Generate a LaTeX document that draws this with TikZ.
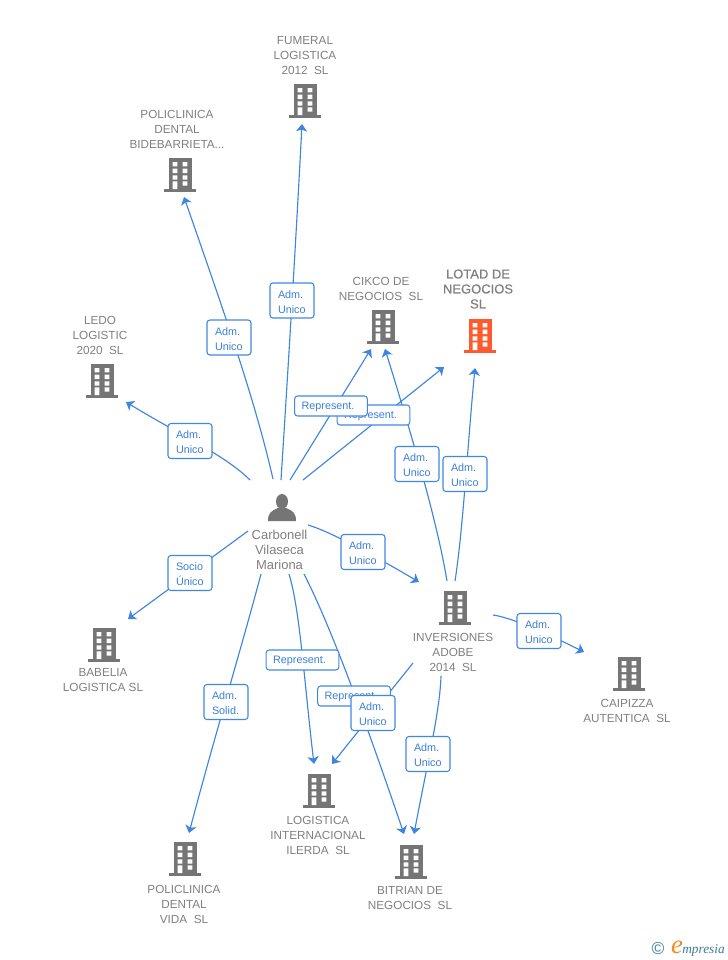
\documentclass[tikz,border=0pt]{standalone}
\usepackage{fontspec}
\setmainfont{Liberation Sans}
\newfontfamily\heavyish[FakeBold=0.5]{Liberation Sans}
\newfontfamily\logofont{Liberation Serif}
\usetikzlibrary{arrows.meta}
\definecolor{edgeblue}{HTML}{3D85E0}
\definecolor{boxblue}{HTML}{3F88E2}
\definecolor{lblblue}{HTML}{3A7FDC}
\definecolor{txtgray}{HTML}{808080}
\definecolor{icongray}{HTML}{757575}
\definecolor{hotorange}{HTML}{FF5A2D}
\definecolor{logoteal}{HTML}{3C7E96}
\definecolor{logoorange}{HTML}{F28C1E}
\tikzset{
 linkline/.style={draw=edgeblue,line width=0.85pt,-{Stealth[length=5.6pt,width=8.4pt,inset=1.5pt]}},
 lblbox/.style={draw=boxblue,line width=0.8pt,rounded corners=2.2pt,fill=white,inner sep=0pt,minimum width=33pt,minimum height=26.25pt,text width=21pt,text depth=9pt,align=left,text=lblblue,font=\fontsize{8.1}{11.25}\selectfont},
 repbox/.style={draw=boxblue,line width=0.8pt,rounded corners=2.2pt,fill=white,inner sep=0pt,minimum width=54.5pt,minimum height=15pt,text width=44pt,text depth=0pt,align=left,text=lblblue,font=\fontsize{8.1}{11.25}\selectfont},
 ntext/.style={align=center,text=txtgray,inner sep=0pt,font=\fontsize{8.8}{11.25}\selectfont},
 bldnode/.style={inner sep=0pt,minimum width=24pt,minimum height=25pt},
 bldg/.pic={
  \fill[pic actions] (-11.5,-17) rectangle (11.5,15);
  \fill[pic actions] (-16,14) rectangle (16,17);
  \fill[white] (-7.3,-13) rectangle (-2.7,-8.7) (2.7,-13) rectangle (7.3,-8.7)
   (-7.3,-6.3) rectangle (-2.7,-2) (2.7,-6.3) rectangle (7.3,-2)
   (-7.3,0.3) rectangle (-2.7,4.7) (2.7,0.3) rectangle (7.3,4.7)
   (-7.3,6.3) rectangle (-2.7,14) (2.7,6.3) rectangle (7.3,10.7);
 }
}
\newcommand{\bld}[4]{\node[bldnode] (#1) at (#2,#3) {};\pic[fill=#4] at (#2,#3) {bldg};}
\begin{document}
\begin{tikzpicture}[x=0.75pt,y=-0.75pt]
\useasboundingbox[fill=white] (0,0) rectangle (728,960);
% building icons
\bld{bF}{305}{101}{icongray}
\bld{bB}{180}{175}{icongray}
\bld{bL}{102}{381}{icongray}
\bld{bC}{383}{327}{icongray}
\bld{bT}{480}{336}{hotorange}
\bld{bI}{455}{608}{icongray}
\bld{bA}{629}{674}{icongray}
\bld{bE}{104}{645}{icongray}
\bld{bG}{319}{791}{icongray}
\bld{bV}{185}{859}{icongray}
\bld{bR}{411}{862}{icongray}
% person icon
\node[inner sep=0pt,minimum width=21pt,minimum height=21pt] (pP) at (282,508) {};
\fill[icongray] (282,501.5) ellipse (6 and 7.5);
\fill[icongray] (268,521) .. controls (268,513) and (271,511) .. (278,508) -- (286,508) .. controls (293,511) and (296,513) .. (296,521) -- cycle;
% names
\node[ntext] (nF) at (305,55.5) {FUMERAL\\LOGISTICA\\2012\ \ SL};
\node[ntext] (nB) at (177,129) {POLICLINICA\\DENTAL\\BIDEBARRIETA...};
\node[ntext] (nL) at (100,335) {LEDO\\LOGISTIC\\2020\ \ SL};
\node[ntext] (nC) at (381,288.5) {CIKCO DE\\NEGOCIOS\ \ SL};
\node[ntext,font=\heavyish\fontsize{9.75}{11.25}\selectfont] (nT) at (478,289) {LOTAD DE\\NEGOCIOS\\SL};
\node[ntext] (nI) at (453,652) {INVERSIONES\\ADOBE\\2014\ \ SL};
\node[ntext] (nA) at (627,710.5) {CAIPIZZA\\AUTENTICA\ \ SL};
\node[ntext] (nE) at (103,680.5) {BABELIA\\LOGISTICA SL};
\node[ntext] (nG) at (318,835) {LOGISTICA\\INTERNACIONAL\\ILERDA\ \ SL};
\node[ntext] (nV) at (184,904) {POLICLINICA\\DENTAL\\VIDA\ \ SL};
\node[ntext] (nR) at (410,898.5) {BITRIAN DE\\NEGOCIOS\ \ SL};
\node[ntext,font=\fontsize{9.75}{11.25}\selectfont] (nP) at (279.5,550) {Carbonell\\Vilaseca\\Mariona};
% connectors
\draw[linkline] ([shift={(-1,-28)}]pP.center) .. controls (288,370) and (296,240) .. ([shift={(-3,23)}]bF.center);
\draw[linkline] ([shift={(-9,-29)}]pP.center) .. controls (255,400) and (225,315) .. ([shift={(4,22)}]bB.center);
\draw[linkline] ([shift={(-32,-28)}]pP.center) .. controls (225,455) and (180,435) .. ([shift={(24,21)}]bL.center);
\draw[linkline] ([shift={(8,-28)}]pP.center) -- ([shift={(-12,22)}]bC.center);
\draw[linkline] ([shift={(21,-28)}]pP.center) -- ([shift={(-36,31)}]bT.center);
\draw[linkline] ([shift={(-8,-27)}]bI.center) .. controls (437,520) and (410,430) .. ([shift={(2,22)}]bC.center);
\draw[linkline] ([shift={(0,-27)}]bI.center) .. controls (463,530) and (468,440) .. ([shift={(-5,32)}]bT.center);
\draw[linkline] ([shift={(26,17)}]pP.center) .. controls (335,533) and (390,565) .. ([shift={(-36,-26)}]bI.center);
\draw[linkline] ([shift={(38,7)}]bI.center) .. controls (515,618) and (560,640) .. ([shift={(-45,-22)}]bA.center);
\draw[linkline] ([shift={(-14,68)}]bI.center) .. controls (440,710) and (428,760) .. ([shift={(3,-28)}]bR.center);
\draw[linkline] ([shift={(-42,55)}]bI.center) -- ([shift={(13,-27)}]bG.center);
\draw[linkline] ([shift={(22,66)}]pP.center) .. controls (325,615) and (355,690) .. ([shift={(-7,-28)}]bR.center);
\draw[linkline] ([shift={(7,66)}]pP.center) .. controls (300,610) and (304,680) .. ([shift={(-5,-27)}]bG.center);
\draw[linkline] ([shift={(-21,66)}]pP.center) .. controls (245,635) and (215,735) .. ([shift={(4,-26)}]bV.center);
\draw[linkline] ([shift={(-34,23)}]pP.center) -- ([shift={(24,-26)}]bE.center);
% connector labels
\node[lblbox] (l1) at (292,300.5) {Adm.\\Unico};
\node[lblbox] (l2) at (229,337.5) {Adm.\\Unico};
\node[lblbox] (l3) at (190,441) {Adm.\\Unico};
\node[repbox] (l5) at (373.5,415) {Represent.};
\node[repbox] (l4) at (331,406) {Represent.};
\node[lblbox] (l6) at (417,464) {Adm.\\Unico};
\node[lblbox] (l7) at (465,474) {Adm.\\Unico};
\node[lblbox] (l8) at (363,552) {Adm.\\Unico};
\node[lblbox] (l9) at (539,631) {Adm.\\Unico};
\node[lblbox] (l10) at (428,754) {Adm.\\Unico};
\node[repbox] (l13) at (302.5,660) {Represent.};
\node[repbox] (l11) at (354,696) {Represent.};
\node[lblbox] (l12) at (373,713) {Adm.\\Unico};
\node[lblbox] (l14) at (226,702) {Adm.\\Solid.};
\node[lblbox] (l15) at (190,573) {Socio\\Único};
% logo
\node[inner sep=0pt,text=logoteal,font=\fontsize{13}{13}\selectfont] (lgC) at (658,949) {©};
\node[inner sep=0pt,text=logoorange,font=\logofont\itshape\fontsize{20}{20}\selectfont] (lgE) at (677,947) {e};
\node[inner sep=0pt,anchor=west,text=logoteal,font=\logofont\itshape\fontsize{10}{10}\selectfont] (lgT) at (682,950) {mpresia};
\end{tikzpicture}
\end{document}
